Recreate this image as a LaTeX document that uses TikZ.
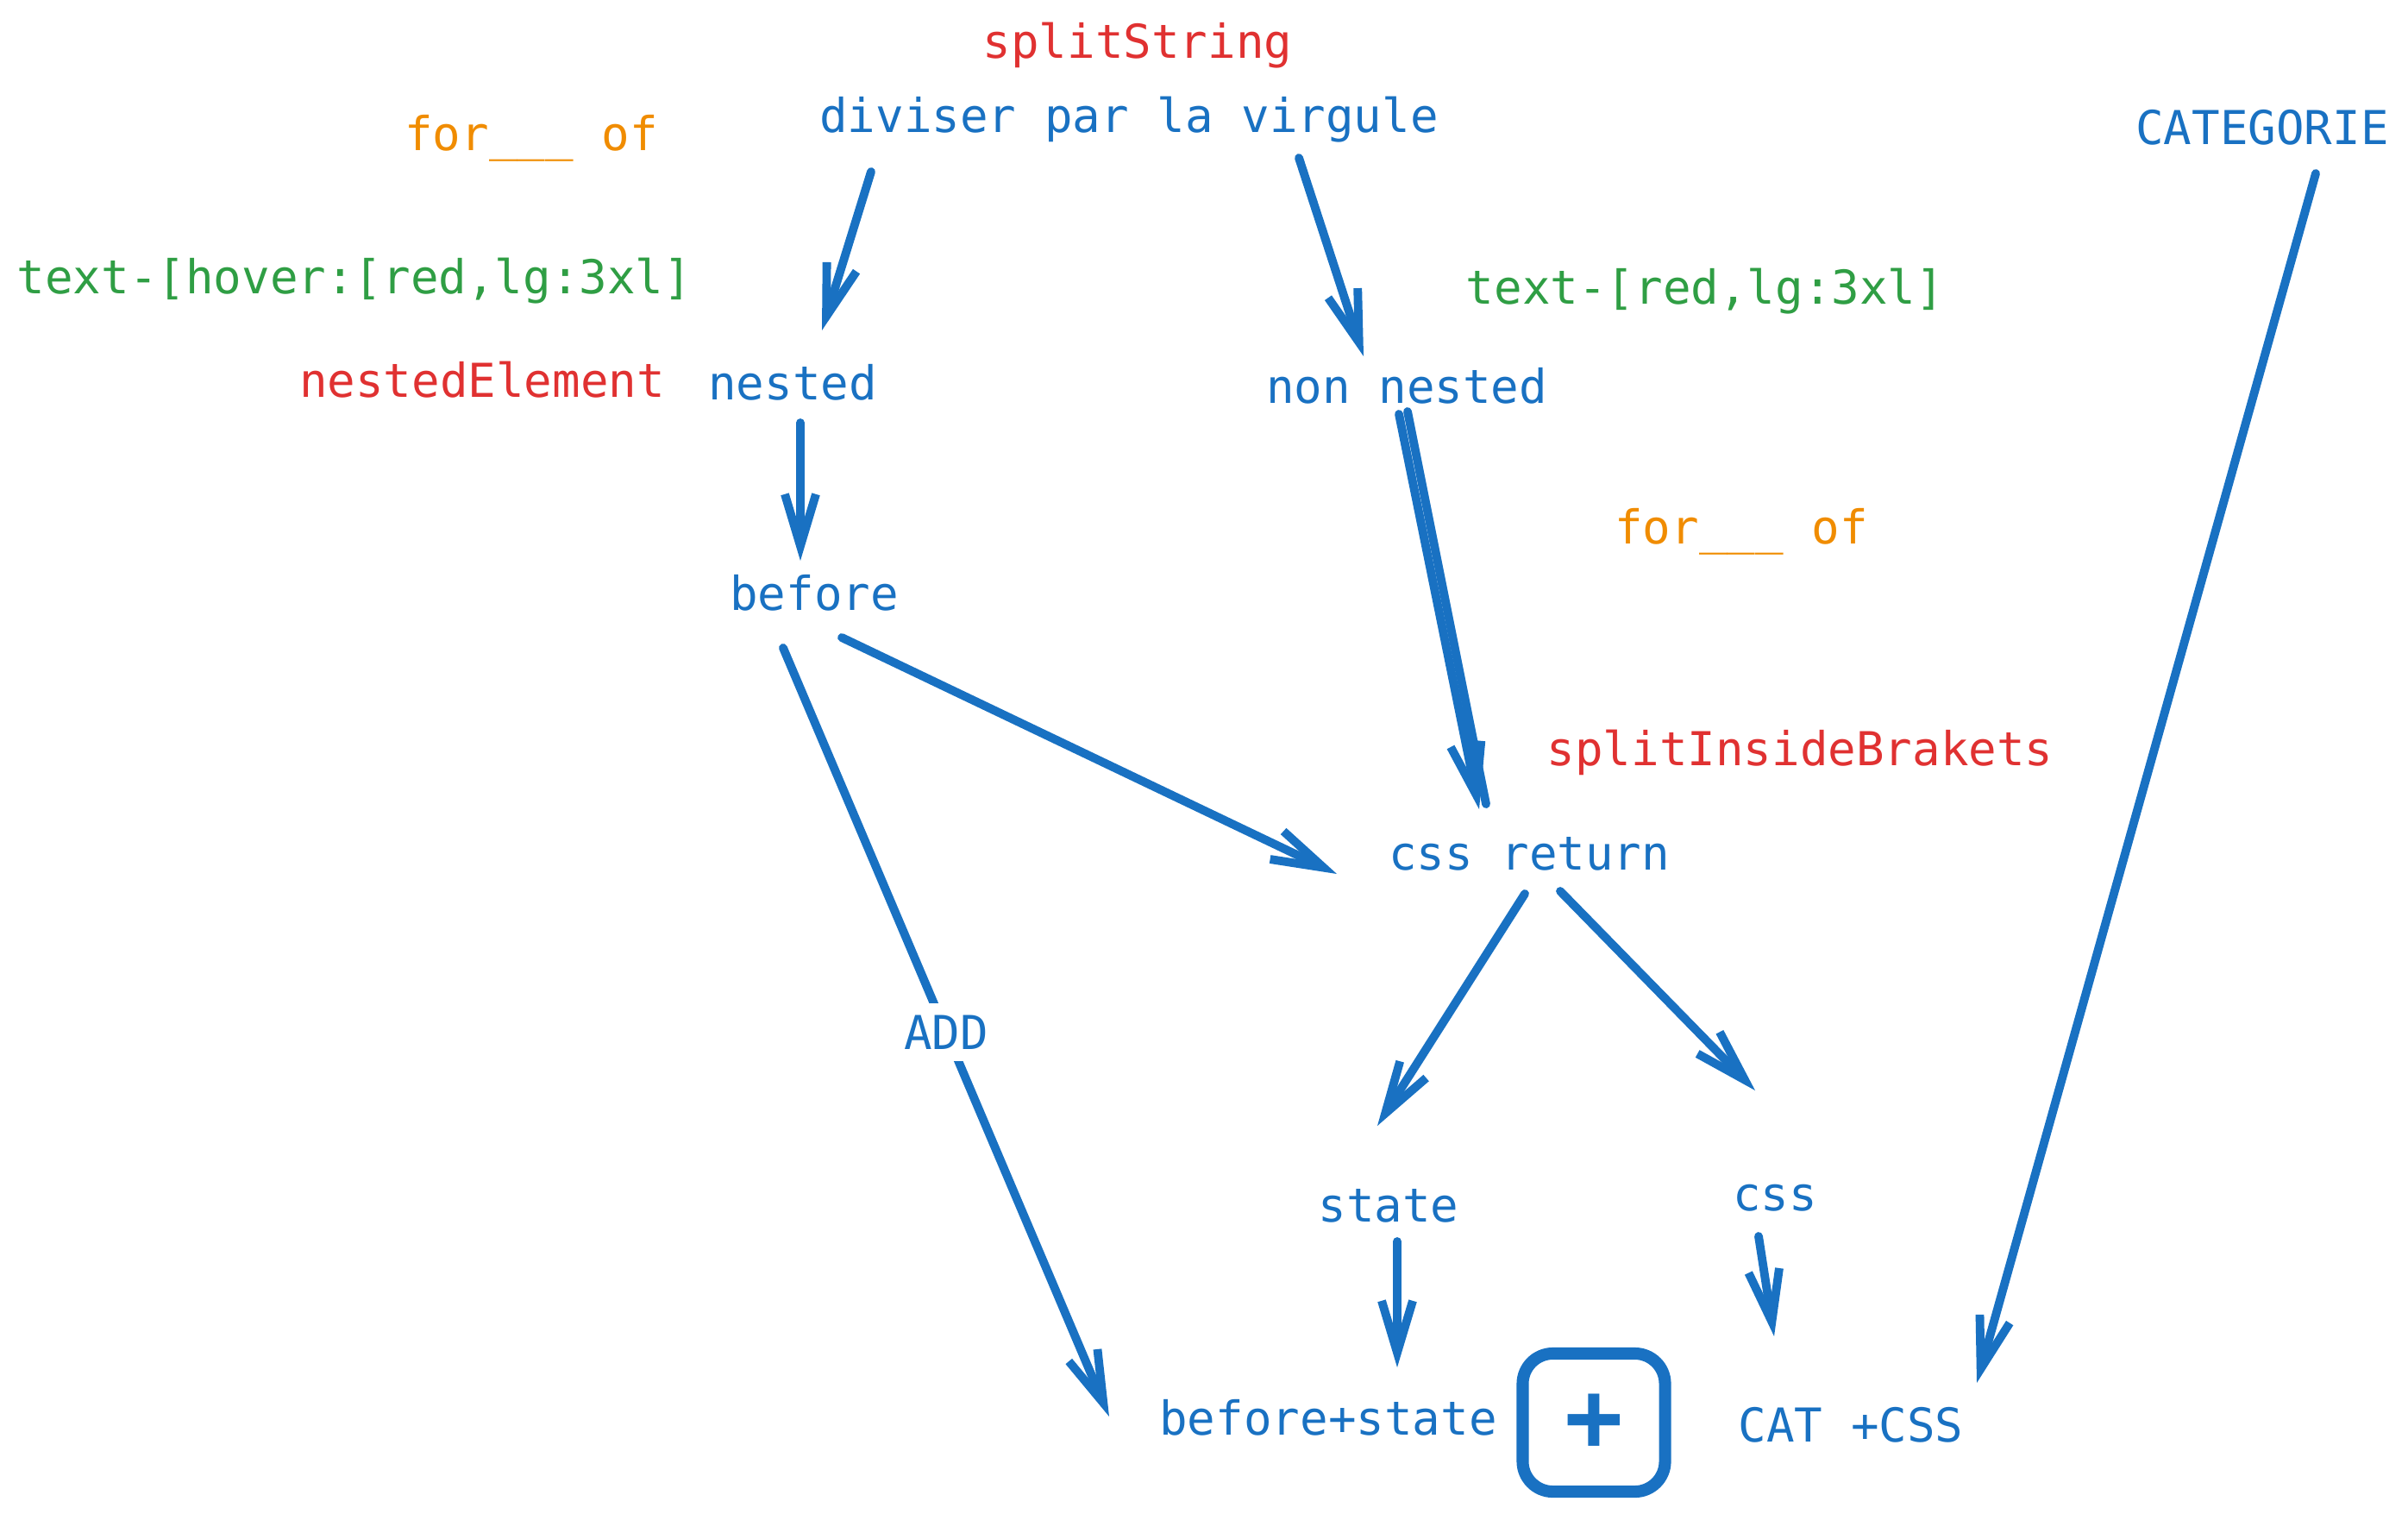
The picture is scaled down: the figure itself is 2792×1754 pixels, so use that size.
\documentclass[tikz,border=0pt]{standalone}
\usepackage{fontspec}
\setmonofont{DejaVu Sans Mono}
\usetikzlibrary{arrows.meta}
\definecolor{exblue}{HTML}{1971C2}
\definecolor{exred}{HTML}{E03131}
\definecolor{exgreen}{HTML}{2F9E44}
\definecolor{exorange}{HTML}{F08C00}
\begin{document}
\begin{tikzpicture}[
    x=0.01cm, y=-0.01cm,
    every node/.style={inner sep=0pt, font=\ttfamily\fontsize{15.4}{18}\selectfont},
    stage/.style={text=exblue},
    fname/.style={text=exred},
    twclass/.style={text=exgreen},
    forloop/.style={text=exorange},
    link/.style={draw=exblue, line width=2.8pt, line cap=round, line join=round,
        -{Straight Barb[length=0.6cm, width=0.36cm, line width=2.8pt]}},
    plusbox/.style={rectangle, draw=exblue, line width=4pt, rounded corners=0.35cm,
        minimum width=1.65cm, minimum height=1.6cm, text=exblue,
        font=\ttfamily\bfseries\fontsize{32}{34}\selectfont}
]
\useasboundingbox (0,0) rectangle (2792,1754);
\node (SplitString) [fname] at (1319,53) {splitString};
\node (Diviser) [stage] at (1309,139) {diviser par la virgule};
\node (ForOf01) [forloop] at (616,160) {for\_\_\_ of};
\node (Categorie) [stage] at (2623,148) {CATEGORIE};
\node (HoverClass) [twclass] at (411,326) {text-[hover:[red,lg:3xl]};
\node (RedClass) [twclass] at (1977,338) {text-[red,lg:3xl]};
\node (NestedElement) [fname] at (559,440) {nestedElement};
\node (Nested) [stage] at (919,443) {nested};
\node (NonNested) [stage] at (1631,447) {non nested};
\node (ForOf02) [forloop] at (2019,616) {for\_\_\_ of};
\node (Before) [stage] at (944,687) {before};
\node (SplitInside) [fname] at (2087,872) {splitInsideBrakets};
\node (CssReturn) [stage] at (1773,990) {css return};
\node (State) [stage] at (1610,1398) {state};
\node (Css) [stage] at (2058,1389) {css};
\node (BeforeState) [stage] at (1540,1643) {before+state};
\node (Plus) [plusbox] at (1848,1649) {+};
\node (CatCss) [stage] at (2146,1652) {CAT +CSS};

\draw [link] ([shift={(-299,60)}]Diviser.center) -- ([shift={(34,-60)}]Nested.center);
\draw [link] ([shift={(197,44)}]Diviser.center) -- ([shift={(-50,-34)}]NonNested.center);
\draw [link] ([shift={(9,47)}]Nested.center) -- ([shift={(-16,-37)}]Before.center);
\draw [link] ([shift={(-9,33)}]NonNested.center) -- ([shift={(-58,-52)}]CssReturn.center);
\draw [link, -] ([shift={(1,30)}]NonNested.center) -- ([shift={(-50,-58)}]CssReturn.center);
\draw [link] ([shift={(32,52)}]Before.center) -- ([shift={(-223,23)}]CssReturn.center);
\draw [link] ([shift={(-36,64)}]Before.center) -- ([shift={(-254,-1)}]BeforeState.center)
  node (Add) [midway, stage, fill=white, inner sep=4pt] {ADD};
\draw [link] ([shift={(-5,46)}]CssReturn.center) -- ([shift={(-13,-93)}]State.center);
\draw [link] ([shift={(36,43)}]CssReturn.center) -- ([shift={(-23,-125)}]Css.center);
\draw [link] ([shift={(10,41)}]State.center) -- ([shift={(80,-58)}]BeforeState.center);
\draw [link] ([shift={(-19,44)}]Css.center) -- ([shift={(-89,-103)}]CatCss.center);
\draw [link] ([shift={(62,53)}]Categorie.center) -- ([shift={(146,-49)}]CatCss.center);

\end{tikzpicture}
\end{document}
